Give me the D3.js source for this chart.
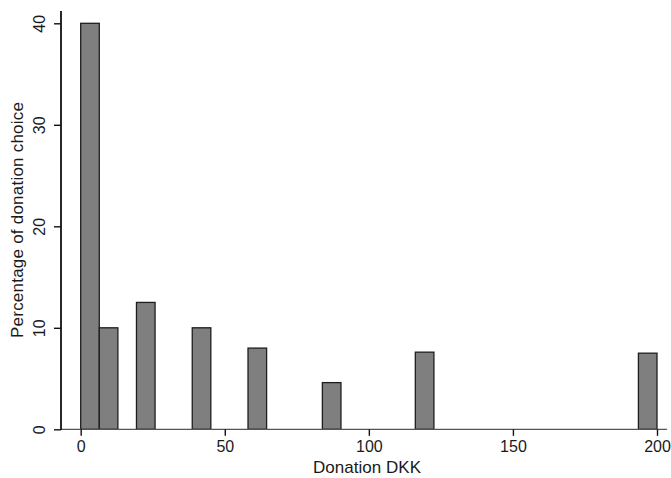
<!DOCTYPE html>
<html>
<head>
<meta charset="utf-8">
<script src="https://cdn.jsdelivr.net/npm/d3@7"></script>
<style>
  html, body { margin: 0; padding: 0; background: #fff; }
  svg { display: block; }
  text { font-family: "Liberation Sans", Arial, sans-serif; fill: #1a1a1a; }
</style>
</head>
<body>
<svg id="chart" width="671" height="478"></svg>
<script>
// ---- data ----
const donations = [0, 10, 20, 40, 60, 85, 120, 200];      // DKK donation choice
const percentages = [40, 10, 12.5, 10, 8, 4.6, 7.6, 7.5];  // % of donation choices
const xTicks = [0, 50, 100, 150, 200];
const yTicks = [0, 10, 20, 30, 40];
const binCount = 31;
const xDomain = [0, 200];
const yDomain = [0, 40];

// ---- layout ----
const W = 671, H = 478;
const svg = d3.select("#chart");
const axisX = 61;       // y-axis line position
const x = d3.scaleLinear().domain(xDomain).range([80.7, 657]);
const y = d3.scaleLinear().domain(yDomain).range([429.3, 23.3]);

const binW = (xDomain[1] - xDomain[0]) / binCount;
const bars = donations.map((d, i) => {
  let k = Math.floor((d - xDomain[0]) / binW);
  if (k >= binCount) k = binCount - 1;
  return { x0: xDomain[0] + k * binW, x1: xDomain[0] + (k + 1) * binW, v: percentages[i] };
});

// bars
svg.append("g").selectAll("rect").data(bars).join("rect")
  .attr("x", d => x(d.x0))
  .attr("width", d => x(d.x1) - x(d.x0))
  .attr("y", d => y(d.v))
  .attr("height", d => y(0) - y(d.v))
  .attr("fill", "#7f7f7f")
  .attr("stroke", "#1e1e1e")
  .attr("stroke-width", 1.3);

// x axis line
svg.append("line")
  .attr("x1", axisX).attr("x2", x(203.5))
  .attr("y1", y(0)).attr("y2", y(0))
  .attr("stroke", "#555").attr("stroke-width", 1.2);

// x ticks
const xt = svg.append("g").attr("transform", `translate(0,${y(0)})`)
  .call(d3.axisBottom(x).tickValues(xTicks).tickSize(6.5).tickSizeOuter(0).tickPadding(5));
xt.select(".domain").remove();
xt.selectAll(".tick line").attr("stroke", "#111").attr("stroke-width", 1.4);
xt.selectAll(".tick text").attr("font-size", 16).attr("fill", "#1a1a1a")
  .attr("font-family", "Liberation Sans, Arial, sans-serif");

// y axis line
svg.append("line")
  .attr("x1", axisX).attr("x2", axisX)
  .attr("y1", y(0) + 0.6).attr("y2", y(41.2))
  .attr("stroke", "#111").attr("stroke-width", 1.8);

// y ticks
const yt = svg.append("g").attr("transform", `translate(${axisX},0)`)
  .call(d3.axisLeft(y).tickValues(yTicks).tickSize(7).tickSizeOuter(0));
yt.select(".domain").remove();
yt.selectAll(".tick line").attr("stroke", "#111").attr("stroke-width", 1.4);
yt.selectAll(".tick text").remove();
yt.selectAll(".tick").append("text")
  .attr("transform", "translate(-16,0) rotate(-90)")
  .attr("text-anchor", "middle")
  .attr("font-size", 16)
  .attr("fill", "#1a1a1a")
  .attr("font-family", "Liberation Sans, Arial, sans-serif")
  .text(d => d);

// axis titles
svg.append("text")
  .attr("x", 367).attr("y", 472.5)
  .attr("text-anchor", "middle")
  .attr("font-size", 17)
  .attr("textLength", 108)
  .text("Donation DKK");

svg.append("text")
  .attr("transform", "translate(23,220) rotate(-90)")
  .attr("text-anchor", "middle")
  .attr("font-size", 17)
  .attr("textLength", 236)
  .text("Percentage of donation choice");
</script>
</body>
</html>
